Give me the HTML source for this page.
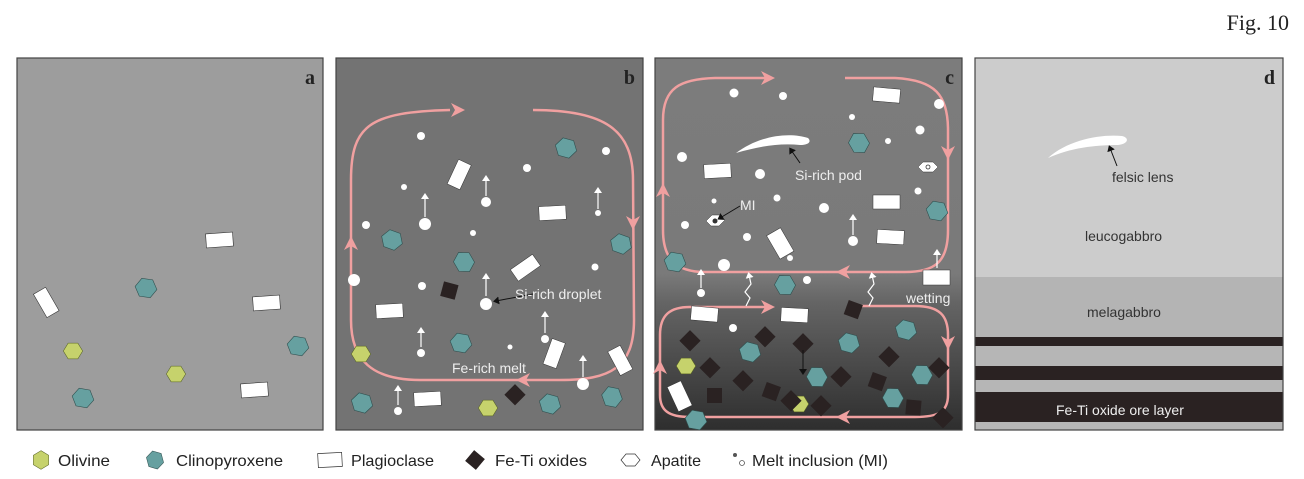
<!DOCTYPE html>
<html><head><meta charset="utf-8"><style>
html,body{margin:0;padding:0;background:#fff;}
svg{display:block;}
text{font-family:"Liberation Sans",sans-serif;}
</style></head><body>
<svg width="1304" height="479" viewBox="0 0 1304 479" xmlns="http://www.w3.org/2000/svg">
<defs>
<polygon id="hx" points="-11,0 -5.5,-9 5.5,-9 11,0 5.5,9 -5.5,9"/>
<linearGradient id="gc" x1="0" y1="0" x2="0" y2="1">
<stop offset="0" stop-color="#7c7c7c"/><stop offset="0.58" stop-color="#7a7a7a"/><stop offset="0.66" stop-color="#646464"/><stop offset="1" stop-color="#2e2e2e"/>
</linearGradient>
<marker id="wa" markerWidth="6" markerHeight="8" refX="3" refY="4" orient="auto" markerUnits="userSpaceOnUse"><path d="M0,0 L6,4 L0,8Z" fill="#fff"/></marker>
<marker id="ba" markerWidth="6" markerHeight="8" refX="3" refY="4" orient="auto" markerUnits="userSpaceOnUse"><path d="M0,0 L6,4 L0,8Z" fill="#111"/></marker>
</defs>
<text x="1289" y="30" text-anchor="end" style="font-family:'Liberation Serif',serif" font-size="22" fill="#222">Fig. 10</text>

<!-- Panel a -->
<rect x="17" y="58" width="306" height="372" fill="#9d9d9d" stroke="#444" stroke-width="1.2"/>
<text x="315" y="84" text-anchor="end" style="font-family:'Liberation Serif',serif" font-weight="bold" font-size="20" fill="#222">a</text>
<g fill="#fff" stroke="#333" stroke-width="0.6">
<rect x="206" y="233" width="27" height="14" transform="rotate(-4 219 240)"/>
<rect x="33" y="295" width="27" height="14" transform="rotate(60 46 302)"/>
<rect x="253" y="296" width="27" height="14" transform="rotate(-4 266 303)"/>
<rect x="241" y="383" width="27" height="14" transform="rotate(-4 254 390)"/>
</g>
<g fill="#66a0a0" stroke="#2f4f4e" stroke-width="0.6">
<use href="#hx" transform="translate(146,288) rotate(8)"/>
<use href="#hx" transform="translate(298,346) rotate(10)"/>
<use href="#hx" transform="translate(83,398) rotate(10)"/>
</g>
<g fill="#c6d26c" stroke="#556022" stroke-width="0.6">
<use href="#hx" transform="translate(73,351) scale(0.88)"/>
<use href="#hx" transform="translate(176,374) scale(0.88)"/>
</g>

<!-- Panel b -->
<rect x="336" y="58" width="307" height="372" fill="#737373" stroke="#444" stroke-width="1.2"/>
<text x="635" y="84" text-anchor="end" style="font-family:'Liberation Serif',serif" font-weight="bold" font-size="20" fill="#222">b</text>
<path d="M533,110 C605,110 633,130 633,180 L634,320 C634,368 610,380 560,380 L420,380 C372,380 351,360 351,320 L351,180 C351,125 370,112 450,110" fill="none" stroke="#f0a0a0" stroke-width="2.5"/>
<g fill="#f0a0a0">
<path d="M465,110 l-14,-7 l4,7 l-4,7z"/>
<path d="M633,230 l-7,-14 l7,4 l7,-4z"/>
<path d="M516,380 l14,-7 l-4,7 l4,7z"/>
<path d="M351,236 l-7,14 l7,-4 l7,4z"/>
</g>
<g stroke="#fff" stroke-width="1.2" marker-end="url(#wa)">
<line x1="486" y1="196" x2="486" y2="178"/><line x1="598" y1="209" x2="598" y2="190"/>
<line x1="425" y1="217" x2="425" y2="196"/><line x1="486" y1="296" x2="486" y2="276"/>
<line x1="421" y1="347" x2="421" y2="330"/><line x1="545" y1="333" x2="545" y2="314"/>
<line x1="583" y1="377" x2="583" y2="358"/><line x1="398" y1="405" x2="398" y2="388"/>
</g>
<g fill="#fff">
<circle cx="421" cy="136" r="4"/><circle cx="606" cy="151" r="4"/><circle cx="527" cy="168" r="4"/><circle cx="404" cy="187" r="3"/>
<circle cx="486" cy="202" r="5"/><circle cx="598" cy="213" r="3"/><circle cx="425" cy="224" r="6"/><circle cx="366" cy="225" r="4"/>
<circle cx="473" cy="233" r="3"/><circle cx="595" cy="267" r="3.5"/><circle cx="422" cy="286" r="4"/><circle cx="354" cy="280" r="6"/>
<circle cx="486" cy="304" r="6"/><circle cx="421" cy="353" r="4"/><circle cx="545" cy="339" r="4"/><circle cx="510" cy="347" r="2.5"/>
<circle cx="583" cy="384" r="6"/><circle cx="398" cy="411" r="4"/>
</g>
<g fill="#fff" stroke="#333" stroke-width="0.5">
<rect x="446" y="168" width="27" height="14" transform="rotate(-65 459 175)"/>
<rect x="539" y="206" width="27" height="14" transform="rotate(-3 552 213)"/>
<rect x="512" y="261" width="27" height="14" transform="rotate(-35 525 268)"/>
<rect x="376" y="304" width="27" height="14" transform="rotate(-3 389 311)"/>
<rect x="541" y="347" width="27" height="14" transform="rotate(-70 554 354)"/>
<rect x="607" y="353" width="27" height="14" transform="rotate(62 620 360)"/>
<rect x="414" y="392" width="27" height="14" transform="rotate(-3 427 399)"/>
</g>
<g fill="#66a0a0" stroke="#2f4f4e" stroke-width="0.6">
<use href="#hx" transform="translate(566,148) rotate(15)"/><use href="#hx" transform="translate(392,240) rotate(20)"/>
<use href="#hx" transform="translate(464,262) rotate(60)"/><use href="#hx" transform="translate(621,244) rotate(20)"/>
<use href="#hx" transform="translate(461,343) rotate(10)"/><use href="#hx" transform="translate(362,403) rotate(15)"/>
<use href="#hx" transform="translate(550,404) rotate(15)"/><use href="#hx" transform="translate(612,397) rotate(70)"/>
</g>
<g fill="#c6d26c" stroke="#556022" stroke-width="0.6">
<use href="#hx" transform="translate(361,354) scale(0.88)"/><use href="#hx" transform="translate(488,408) scale(0.88)"/>
</g>
<g fill="#2a2222">
<rect x="442" y="283" width="15" height="15" transform="rotate(15 449 290)"/>
<rect x="508" y="387" width="15" height="15" transform="rotate(45 515 394)"/>
</g>
<line x1="533" y1="294" x2="496" y2="301" stroke="#111" stroke-width="1" marker-end="url(#ba)"/>
<text x="515" y="299" font-size="14" fill="#eee">Si-rich droplet</text>
<text x="452" y="373" font-size="14" fill="#eee">Fe-rich melt</text>

<!-- Panel c -->
<rect x="655" y="58" width="307" height="372" fill="url(#gc)" stroke="#444" stroke-width="1.2"/>
<text x="954" y="84" text-anchor="end" style="font-family:'Liberation Serif',serif" font-weight="bold" font-size="20" fill="#222">c</text>
<g fill="none" stroke="#f0a0a0" stroke-width="2.5">
<path d="M845,78 L895,78 C935,80 948,95 948,130 L948,230 C948,262 935,272 905,272 L705,272 C675,272 663,258 663,230 L663,120 C663,88 680,79 715,78 L765,78"/>
<path d="M850,306 L915,306 C940,306 948,316 948,335 L948,395 C948,412 938,417 915,417 L690,417 C668,417 660,410 660,395 L660,335 C660,315 670,307 690,307 L770,307"/>
</g>
<g fill="#f0a0a0">
<path d="M775,78 l-14,-7 l4,7 l-4,7z"/>
<path d="M948,160 l-7,-14 l7,4 l7,-4z"/>
<path d="M836,272 l14,-7 l-4,7 l4,7z"/>
<path d="M663,183 l-7,14 l7,-4 l7,4z"/>
<path d="M775,307 l-14,-7 l4,7 l-4,7z"/>
<path d="M948,350 l-7,-14 l7,4 l7,-4z"/>
<path d="M836,417 l14,-7 l-4,7 l4,7z"/>
<path d="M660,360 l-7,14 l7,-4 l7,4z"/>
</g>
<g stroke="#fff" stroke-width="1.2" fill="none">
<line x1="853" y1="235" x2="853" y2="217" marker-end="url(#wa)"/>
<line x1="701" y1="288" x2="701" y2="272" marker-end="url(#wa)"/>
<line x1="937" y1="268" x2="937" y2="252" marker-end="url(#wa)"/>
<path d="M746,306 l4,-8 l-5,-6 l6,-8 l-2,-9" marker-end="url(#wa)"/>
<path d="M869,306 l4,-8 l-5,-6 l6,-8 l-2,-9" marker-end="url(#wa)"/>
</g>
<g fill="#fff">
<circle cx="734" cy="93" r="4.5"/><circle cx="783" cy="96" r="4"/><circle cx="852" cy="117" r="3"/><circle cx="939" cy="104" r="5"/>
<circle cx="920" cy="130" r="4.5"/><circle cx="888" cy="141" r="3"/><circle cx="682" cy="157" r="5"/><circle cx="760" cy="174" r="5"/>
<circle cx="777" cy="198" r="3.5"/><circle cx="824" cy="208" r="5"/><circle cx="918" cy="191" r="3.5"/><circle cx="714" cy="201" r="2.5"/>
<circle cx="685" cy="225" r="4"/><circle cx="747" cy="237" r="4"/><circle cx="853" cy="241" r="5"/><circle cx="724" cy="265" r="6"/>
<circle cx="790" cy="258" r="3"/><circle cx="807" cy="280" r="4"/><circle cx="701" cy="293" r="4"/><circle cx="733" cy="328" r="4"/>
</g>
<path d="M736,153 C760,135 790,132 808,138 C812,142 808,145 800,145 C780,143 760,146 736,153Z" fill="#fff"/>
<line x1="800" y1="163" x2="791" y2="150" stroke="#111" stroke-width="1" marker-end="url(#ba)"/>
<text x="795" y="180" font-size="14" fill="#eee">Si-rich pod</text>
<g fill="#fff" stroke="#333" stroke-width="0.5">
<rect x="873" y="88" width="27" height="14" transform="rotate(5 886 96)"/>
<rect x="704" y="164" width="27" height="14" transform="rotate(-3 717 171)"/>
<rect x="873" y="195" width="27" height="14"/>
<rect x="877" y="230" width="27" height="14" transform="rotate(3 890 237)"/>
<rect x="772" y="230" width="16" height="27" transform="rotate(-30 780 243)"/>
<rect x="923" y="270" width="27" height="15"/>
<rect x="691" y="307" width="27" height="14" transform="rotate(5 704 314)"/>
<rect x="781" y="308" width="27" height="14" transform="rotate(3 794 315)"/>
<rect x="672" y="383" width="15" height="27" transform="rotate(-25 679 396)"/>
</g>
<path d="M918,167 l5,-5 h10 l5,5 l-5,5 h-10z" fill="#fff" stroke="#333" stroke-width="0.5"/>
<circle cx="928" cy="167" r="2" fill="none" stroke="#333" stroke-width="0.8"/>
<path d="M706,221 l6,-6 h8 l5,5 l-6,6 h-8z" fill="#fff" stroke="#333" stroke-width="0.5"/>
<circle cx="715" cy="221" r="2.5" fill="#333"/>
<line x1="740" y1="206" x2="720" y2="218" stroke="#111" stroke-width="1" marker-end="url(#ba)"/>
<text x="740" y="210" font-size="14" fill="#eee">MI</text>
<text x="906" y="303" font-size="14" fill="#eee">wetting</text>
<g fill="#66a0a0" stroke="#2f4f4e" stroke-width="0.6">
<use href="#hx" transform="translate(859,143) rotate(60)"/><use href="#hx" transform="translate(937,211) rotate(10)"/>
<use href="#hx" transform="translate(675,262) rotate(10)"/><use href="#hx" transform="translate(785,285) rotate(60)"/>
<use href="#hx" transform="translate(906,330) rotate(15)"/><use href="#hx" transform="translate(750,352) rotate(15)"/>
<use href="#hx" transform="translate(849,343) rotate(15)"/><use href="#hx" transform="translate(817,377) rotate(60)"/>
<use href="#hx" transform="translate(893,398) rotate(60)"/><use href="#hx" transform="translate(922,375) rotate(60)"/>
<use href="#hx" transform="translate(696,420) rotate(10)"/>
</g>
<g fill="#c6d26c" stroke="#556022" stroke-width="0.6">
<use href="#hx" transform="translate(686,366) scale(0.88)"/><use href="#hx" transform="translate(799,404) scale(0.88)"/>
</g>
<g fill="#2a2222">
<rect x="846" y="302" width="15" height="15" transform="rotate(20 853 309)"/>
<rect x="683" y="333" width="15" height="15" transform="rotate(45 690 340)"/>
<rect x="758" y="329" width="15" height="15" transform="rotate(45 765 336)"/>
<rect x="796" y="336" width="15" height="15" transform="rotate(45 803 343)"/>
<rect x="703" y="360" width="15" height="15" transform="rotate(45 710 367)"/>
<rect x="736" y="373" width="15" height="15" transform="rotate(45 743 380)"/>
<rect x="707" y="388" width="15" height="15"/>
<rect x="764" y="384" width="15" height="15" transform="rotate(20 771 391)"/>
<rect x="784" y="393" width="15" height="15" transform="rotate(45 791 400)"/>
<rect x="834" y="369" width="15" height="15" transform="rotate(45 841 376)"/>
<rect x="870" y="374" width="15" height="15" transform="rotate(20 877 381)"/>
<rect x="882" y="349" width="15" height="15" transform="rotate(45 889 356)"/>
<rect x="932" y="360" width="15" height="15" transform="rotate(45 939 367)"/>
<rect x="814" y="398" width="15" height="15" transform="rotate(45 821 405)"/>
<rect x="906" y="400" width="15" height="15" transform="rotate(5 913 407)"/>
<rect x="936" y="410" width="15" height="15" transform="rotate(45 943 417)"/>
</g>
<line x1="803" y1="350" x2="803" y2="372" stroke="#111" stroke-width="1" marker-end="url(#ba)"/>

<!-- Panel d -->
<rect x="975" y="58" width="308" height="219" fill="#cccccc"/>
<rect x="975" y="277" width="308" height="60" fill="#b4b4b4"/>
<rect x="975" y="337" width="308" height="93" fill="#b6b6b6"/>
<rect x="975" y="337" width="308" height="9" fill="#2a2222"/>
<rect x="975" y="366" width="308" height="14" fill="#2a2222"/>
<rect x="975" y="392" width="308" height="30" fill="#2a2222"/>
<rect x="975" y="58" width="308" height="372" fill="none" stroke="#444" stroke-width="1.2"/>
<text x="1275" y="84" text-anchor="end" style="font-family:'Liberation Serif',serif" font-weight="bold" font-size="20" fill="#222">d</text>
<path d="M1048,158 C1068,140 1100,134 1122,136 C1130,138 1128,144 1118,145 C1095,145 1070,148 1048,158Z" fill="#fff"/>
<line x1="1117" y1="166" x2="1110" y2="148" stroke="#111" stroke-width="1" marker-end="url(#ba)"/>
<text x="1112" y="182" font-size="14" fill="#333">felsic lens</text>
<text x="1085" y="241" font-size="14" fill="#333">leucogabbro</text>
<text x="1087" y="317" font-size="14" fill="#333">melagabbro</text>
<text x="1056" y="415" font-size="14" fill="#eee">Fe-Ti oxide ore layer</text>

<!-- Legend -->
<use href="#hx" transform="translate(41,460) rotate(90) scale(0.85)" fill="#c6d26c" stroke="#556022" stroke-width="0.6"/>
<text x="58" y="466" font-size="16" fill="#222" textLength="52" lengthAdjust="spacingAndGlyphs">Olivine</text>
<use href="#hx" transform="translate(155,460) rotate(75) scale(0.85)" fill="#66a0a0" stroke="#2f4f4e" stroke-width="0.6"/>
<text x="176" y="466" font-size="16" fill="#222" textLength="107" lengthAdjust="spacingAndGlyphs">Clinopyroxene</text>
<rect x="318" y="453" width="24" height="14" fill="#fff" stroke="#333" stroke-width="0.7" transform="rotate(-3 330 460)"/>
<text x="351" y="466" font-size="16" fill="#222" textLength="83" lengthAdjust="spacingAndGlyphs">Plagioclase</text>
<rect x="468" y="453" width="14" height="14" fill="#2a2222" transform="rotate(40 475 460)"/>
<text x="495" y="466" font-size="16" fill="#222" textLength="92" lengthAdjust="spacingAndGlyphs">Fe-Ti oxides</text>
<path d="M621,460 l5,-6 h9 l5,6 l-5,6 h-9z" fill="#fff" stroke="#333" stroke-width="0.7"/>
<text x="651" y="466" font-size="16" fill="#222" textLength="50" lengthAdjust="spacingAndGlyphs">Apatite</text>
<circle cx="735" cy="455" r="2" fill="#555"/><circle cx="742" cy="463" r="2.5" fill="none" stroke="#555" stroke-width="0.8"/>
<text x="752" y="466" font-size="16" fill="#222" textLength="136" lengthAdjust="spacingAndGlyphs">Melt inclusion (MI)</text>
</svg>
</body></html>
